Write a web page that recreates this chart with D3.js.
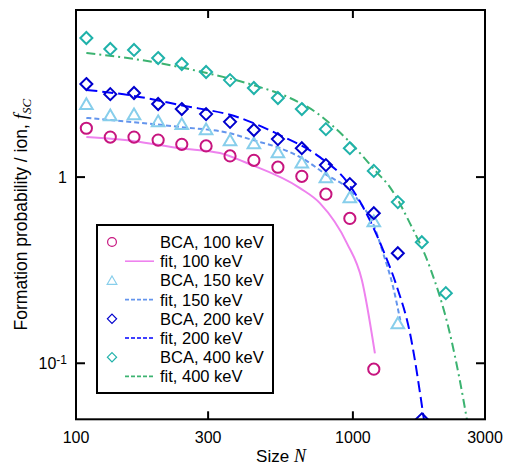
<!DOCTYPE html>
<html>
<head>
<meta charset="utf-8">
<script src="https://cdn.jsdelivr.net/npm/d3@7"></script>
<style>
  body { margin: 0; background: #fff; }
  text { font-family: "Liberation Sans", Arial, sans-serif; }
</style>
</head>
<body>
<svg id="chart" width="505" height="467"></svg>
<script>
// ---- data ----
const sizeN = [109, 133, 162, 198, 241, 295, 360, 439, 536, 654, 799, 975, 1190, 1453, 1774, 2166];

const bca100 = [1.83, 1.64, 1.64, 1.58, 1.50, 1.47, 1.30, 1.23, 1.13, 1.01, 0.81, 0.60, 0.093];
const bca150 = [2.47, 2.15, 2.18, 2.00, 1.93, 1.81, 1.58, 1.52, 1.36, 1.20, 1.00, 0.78, 0.58, 0.164];
const bca200 = [3.16, 2.79, 2.83, 2.47, 2.32, 2.18, 1.98, 1.79, 1.60, 1.43, 1.16, 0.917, 0.64, 0.39, 0.05];
const bca400 = [5.59, 4.88, 4.82, 4.36, 4.05, 3.67, 3.32, 3.01, 2.66, 2.32, 1.81, 1.43, 1.08, 0.734, 0.447, 0.238];

const fit100N = [109, 162, 237, 331, 414, 644, 760, 951, 1078, 1201];
const fit100F = [1.64, 1.56, 1.43, 1.346, 1.19, 0.873, 0.725, 0.442, 0.279, 0.113];
const fit150N = [109, 237, 360, 436, 532, 654, 806, 975, 1078, 1181, 1286, 1398, 1483];
const fit150F = [2.08, 1.86, 1.72, 1.58, 1.45, 1.265, 1.025, 0.851, 0.707, 0.566, 0.39, 0.256, 0.17];
const fit200N = [109, 162, 237, 391, 545, 760, 961, 1151, 1286, 1444, 1600, 1805];
const fit200F = [2.94, 2.73, 2.44, 2.08, 1.68, 1.28, 0.928, 0.587, 0.405, 0.256, 0.15, 0.05];
const fit400N = [109, 190, 297, 450, 593, 741, 847, 975, 1221, 1360, 1606, 1897, 2239, 2433, 2580];
const fit400F = [4.64, 4.15, 3.62, 3.08, 2.66, 2.21, 1.88, 1.54, 1.06, 0.884, 0.566, 0.328, 0.145, 0.081, 0.05];

const xTicks = [100, 300, 1000, 3000];
const yTicks = [0.1, 1];

const series = [
  { bca: bca100, fitN: fit100N, fitF: fit100F, sym: "circle",   mark: "#c7157f", line: "#ee82ee", dash: null,      label: "100 keV" },
  { bca: bca150, fitN: fit150N, fitF: fit150F, sym: "triangle", mark: "#87ceeb", line: "#6495ed", dash: "5,3",     label: "150 keV" },
  { bca: bca200, fitN: fit200N, fitF: fit200F, sym: "diamond",  mark: "#0000cd", line: "#0000ff", dash: "11,5",    label: "200 keV" },
  { bca: bca400, fitN: fit400N, fitF: fit400F, sym: "diamond",  mark: "#20b2aa", line: "#3cb371", dash: "9,4,2,4", label: "400 keV" }
];

// ---- layout ----
const L = 76, R = 485, T = 10, B = 419.3;
const svg = d3.select("#chart");

const x = d3.scaleLog().domain([100, 3000]).range([L, R]);
const y = d3.scaleLog().domain([0.05, 7.9]).range([B, T]);

svg.append("defs").append("clipPath").attr("id", "plotclip")
  .append("rect").attr("x", L).attr("y", T).attr("width", R - L).attr("height", B - T);

// symbol paths
function symPath(type, s) {
  if (type === "triangle") return `M0,${-s * 0.95}L${s * 1.05},${s * 0.85}L${-s * 1.05},${s * 0.85}Z`;
  if (type === "diamond") return `M0,${-s}L${s},0L0,${s}L${-s},0Z`;
  return null;
}
function drawSymbol(g, type, cx, cy, s, color, sw) {
  if (type === "circle") {
    g.append("circle").attr("cx", cx).attr("cy", cy).attr("r", s)
      .attr("fill", "none").attr("stroke", color).attr("stroke-width", sw);
  } else {
    g.append("path").attr("d", symPath(type, s))
      .attr("transform", `translate(${cx},${cy})`)
      .attr("fill", "none").attr("stroke", color).attr("stroke-width", sw)
      .attr("stroke-linejoin", "miter");
  }
}

// ---- fits and points ----
const plot = svg.append("g").attr("clip-path", "url(#plotclip)");
const line = d3.line().x(d => x(d[0])).y(d => y(d[1])).curve(d3.curveMonotoneX);

series.forEach(s => {
  const pts = s.fitN.map((n, i) => [n, s.fitF[i]]);
  plot.append("path").attr("d", line(pts))
    .attr("fill", "none").attr("stroke", s.line).attr("stroke-width", 2)
    .attr("stroke-dasharray", s.dash);
});

series.forEach(s => {
  const g = plot.append("g");
  const size = s.sym === "circle" ? 5.6 : 6;
  s.bca.forEach((v, i) => drawSymbol(g, s.sym, x(sizeN[i]), y(v), size, s.mark, 2));
});

// ---- frame and ticks ----
svg.append("rect").attr("x", L).attr("y", T).attr("width", R - L).attr("height", B - T)
  .attr("fill", "none").attr("stroke", "#000").attr("stroke-width", 2);

const ticks = svg.append("g").attr("stroke", "#000").attr("stroke-width", 2);
xTicks.forEach(t => {
  ticks.append("line").attr("x1", x(t)).attr("x2", x(t)).attr("y1", B).attr("y2", B - 8);
  ticks.append("line").attr("x1", x(t)).attr("x2", x(t)).attr("y1", T).attr("y2", T + 8);
});
yTicks.forEach(t => {
  ticks.append("line").attr("x1", L).attr("x2", L + 9).attr("y1", y(t)).attr("y2", y(t));
  ticks.append("line").attr("x1", R).attr("x2", R - 9).attr("y1", y(t)).attr("y2", y(t));
});

svg.append("g").selectAll("text").data(xTicks).join("text")
  .attr("x", d => x(d)).attr("y", B + 23.5)
  .attr("text-anchor", "middle").attr("font-size", 16).attr("fill", "#000")
  .text(d => d);

const ylab = svg.append("g").attr("font-size", 16).attr("fill", "#000");
yTicks.forEach(t => {
  const tx = ylab.append("text").attr("x", 67).attr("y", y(t) + 6).attr("text-anchor", "end");
  if (t === 1) {
    tx.text("1");
  } else {
    tx.append("tspan").text("10");
    tx.append("tspan").attr("dy", -5.5).attr("font-size", 12).text("-1");
  }
});

// axis titles
const xt = svg.append("text").attr("x", 281).attr("y", 462)
  .attr("text-anchor", "middle").attr("font-size", 17).attr("fill", "#000");
xt.append("tspan").text("Size ");
xt.append("tspan").attr("font-family", "'Liberation Serif', 'Times New Roman', serif")
  .attr("font-style", "italic").attr("font-size", 18).text("N");

const yt = svg.append("text").attr("transform", `translate(27,${(T + B) / 2}) rotate(-90)`)
  .attr("text-anchor", "middle").attr("font-size", 17.5).attr("fill", "#000");
yt.append("tspan").text("Formation probability / ion, ");
yt.append("tspan").attr("font-family", "'Liberation Serif', 'Times New Roman', serif")
  .attr("font-style", "italic").attr("font-size", 19).text("f");
yt.append("tspan").attr("font-family", "'Liberation Serif', 'Times New Roman', serif")
  .attr("font-style", "italic").attr("font-size", 13).attr("dy", 4).text("SC");

// ---- legend ----
const leg = svg.append("g");
leg.append("rect").attr("x", 97).attr("y", 225).attr("width", 176).attr("height", 168)
  .attr("fill", "#fff").attr("stroke", "#000").attr("stroke-width", 2);

series.forEach((s, i) => {
  const r1 = 242 + i * 2 * 19.2, r2 = r1 + 19.2;
  drawSymbol(leg, s.sym, 112, r1, s.sym === "circle" ? 4.4 : 4.6, s.mark, 1.2);
  leg.append("line").attr("x1", 125).attr("x2", 154).attr("y1", r2).attr("y2", r2)
    .attr("stroke", s.line).attr("stroke-width", 1.6)
    .attr("stroke-dasharray", s.dash ? "4,2" : null);
  leg.append("text").attr("x", 160).attr("y", r1 + 6).attr("font-size", 16.5).text("BCA, " + s.label);
  leg.append("text").attr("x", 160).attr("y", r2 + 6).attr("font-size", 16.5).text("fit, " + s.label);
});
</script>
</body>
</html>
